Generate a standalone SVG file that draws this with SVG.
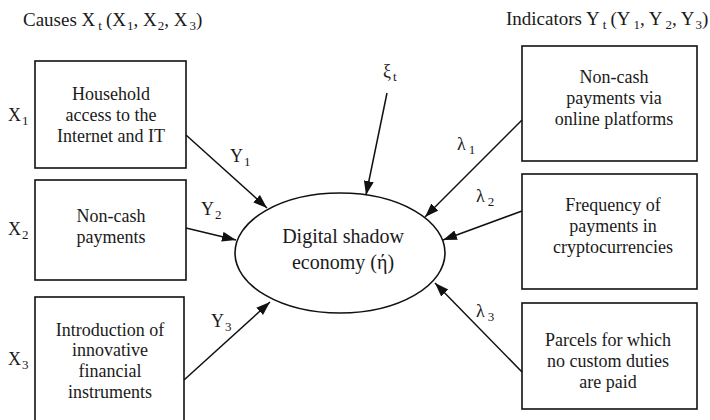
<svg xmlns="http://www.w3.org/2000/svg" width="710" height="420" viewBox="0 0 710 420">
<style>
text{font-family:"Liberation Serif","Times New Roman",serif;fill:#1a1a1a}
.t{font-size:18px;text-anchor:middle}
.e{font-size:20px;text-anchor:middle}
.h{font-size:19px}
.l{font-size:18px}
.s{font-size:13px}
.box{fill:#fff;stroke:#111;stroke-width:1.6}
.c{stroke:#111;stroke-width:1.5;fill:none;marker-end:url(#ah)}
</style>
<defs>
<marker id="ah" markerUnits="userSpaceOnUse" markerWidth="15" markerHeight="11" refX="14" refY="5" orient="auto">
<path d="M0,0 L14,5 L0,10 z" fill="#111"/>
</marker>
</defs>
<rect width="710" height="420" fill="#fff"/>

<text class="h" x="23" y="26">Causes X<tspan class="s" dx="3" dy="4">t</tspan><tspan dx="4" dy="-4">(X</tspan><tspan class="s" dx="1" dy="4">1</tspan><tspan dy="-4">, X</tspan><tspan class="s" dx="1" dy="4">2</tspan><tspan dy="-4">, X</tspan><tspan class="s" dx="2" dy="4">3</tspan><tspan dy="-4">)</tspan></text>
<text class="h" x="506" y="25">Indicators Y<tspan class="s" dx="3" dy="4">t</tspan><tspan dx="4" dy="-4">(Y</tspan><tspan class="s" dx="3" dy="4">1</tspan><tspan dy="-4">, Y</tspan><tspan class="s" dx="3" dy="4">2</tspan><tspan dy="-4">, Y</tspan><tspan class="s" dx="1" dy="4">3</tspan><tspan dy="-4">)</tspan></text>

<g id="cause1">
<rect class="box" x="35" y="61" width="151" height="107"/>
<text class="t" x="111" y="100">Household</text>
<text class="t" x="111" y="121">access to the</text>
<text class="t" x="111" y="142">Internet and IT</text>
<text class="l" x="8" y="121">X<tspan class="s" dx="1" dy="4">1</tspan></text>
</g>
<g id="cause2">
<rect class="box" x="35" y="180" width="151" height="100"/>
<text class="t" x="111" y="222">Non-cash</text>
<text class="t" x="111" y="243">payments</text>
<text class="l" x="8" y="235">X<tspan class="s" dx="1" dy="4">2</tspan></text>
</g>
<g id="cause3">
<rect class="box" x="35" y="297" width="149" height="140"/>
<text class="t" x="110" y="336">Introduction of</text>
<text class="t" x="110" y="356">innovative</text>
<text class="t" x="110" y="377">financial</text>
<text class="t" x="110" y="398">instruments</text>
<text class="l" x="8" y="365">X<tspan class="s" dx="1" dy="4">3</tspan></text>
</g>

<g id="latent">
<ellipse cx="340" cy="253" rx="105" ry="60" fill="#fff" stroke="#111" stroke-width="1.6"/>
<text class="e" x="343" y="243">Digital shadow</text>
<text class="e" x="343" y="269">economy (ή)</text>
</g>

<g id="ind1">
<rect class="box" x="522" y="46" width="175" height="115"/>
<text class="t" x="614" y="83">Non-cash</text>
<text class="t" x="614" y="104">payments via</text>
<text class="t" x="614" y="125">online platforms</text>
</g>
<g id="ind2">
<rect class="box" x="522" y="174" width="175" height="115"/>
<text class="t" x="613" y="211">Frequency of</text>
<text class="t" x="613" y="232">payments in</text>
<text class="t" x="613" y="253">cryptocurrencies</text>
</g>
<g id="ind3">
<rect class="box" x="522" y="303" width="175" height="106"/>
<text class="t" x="608" y="346">Parcels for which</text>
<text class="t" x="608" y="367">no custom duties</text>
<text class="t" x="608" y="388">are paid</text>
</g>

<g id="error">
<text class="l" x="383" y="77">ξ<tspan class="s" dx="2" dy="4">t</tspan></text>
</g>

<g id="connectors">
<line class="c" x1="186" y1="135" x2="267" y2="208"/>
<line class="c" x1="186" y1="228" x2="236" y2="240"/>
<line class="c" x1="184" y1="380" x2="270" y2="302"/>
<line class="c" x1="387" y1="93" x2="366" y2="195"/>
<line class="c" x1="522" y1="120" x2="425" y2="217"/>
<line class="c" x1="522" y1="211" x2="443" y2="240"/>
<line class="c" x1="522" y1="372" x2="435" y2="283"/>
<text class="l" x="230" y="162">Y<tspan class="s" dx="1" dy="4">1</tspan></text>
<text class="l" x="201" y="215">Y<tspan class="s" dx="1" dy="4">2</tspan></text>
<text class="l" x="211" y="327">Y<tspan class="s" dx="1" dy="4">3</tspan></text>
<text class="l" x="457" y="150">λ<tspan class="s" dx="3" dy="4">1</tspan></text>
<text class="l" x="476" y="202">λ<tspan class="s" dx="3" dy="4">2</tspan></text>
<text class="l" x="476" y="317">λ<tspan class="s" dx="3" dy="4">3</tspan></text>
</g>
</svg>
